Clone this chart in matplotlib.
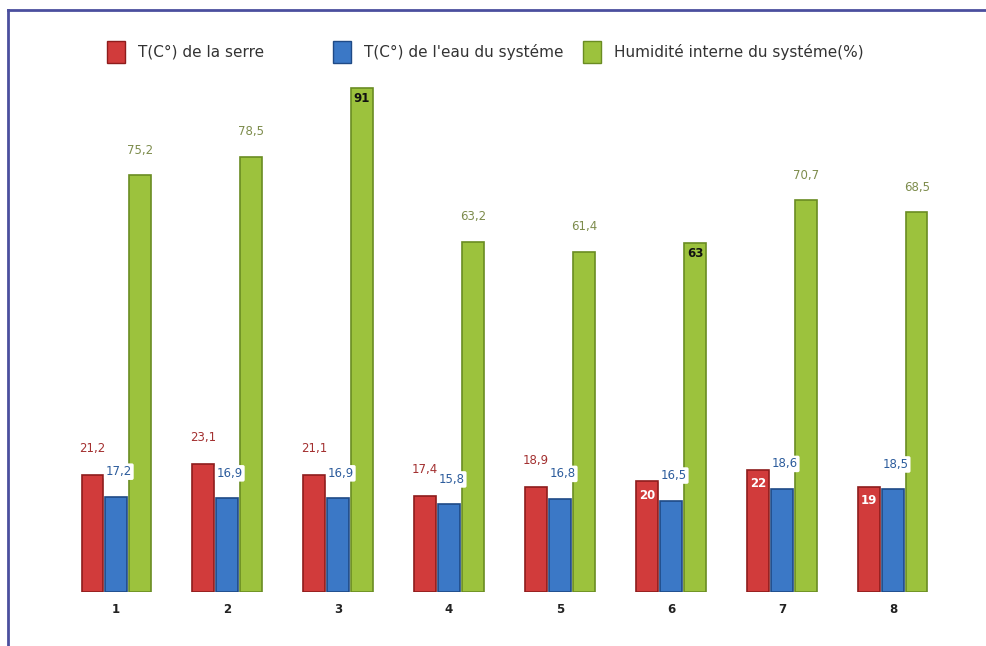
import matplotlib as mpl

mpl.use('Agg')

from matplotlib import pyplot as plt
from matplotlib.patches import Rectangle
from matplotlib.lines import Line2D

days = [1, 2, 3, 4, 5, 6, 7, 8]
day_labels = ['1', '2', '3', '4', '5', '6', '7', '8']
temp_serre = [21.2, 23.1, 21.1, 17.4, 18.9, 20, 22, 19]
temp_eau = [17.2, 16.9, 16.9, 15.8, 16.8, 16.5, 18.6, 18.5]
humidite = [75.2, 78.5, 91, 63.2, 61.4, 63, 70.7, 68.5]
series_names = ['T(C°) de la serre', "T(C°) de l'eau du systéme",
                'Humidité interne du systéme(%)']

# labels drawn inside the top of the bar instead of above it
serre_inside = [6, 7, 8]
humid_inside = [3, 6]


def fmt(v):
    if float(v).is_integer():
        return str(int(v))
    return ('%.1f' % v).replace('.', ',')


red, red_edge = '#d13b3b', '#8e1c1c'
blue, blue_edge = '#3b78c6', '#1f4a86'
green, green_edge = '#9cc23d', '#6a8c22'

W, H = 987, 646
fig = plt.figure(figsize=(W / 100, H / 100), dpi=100)
fig.patch.set_facecolor('white')
ax = fig.add_axes([30 / W, 54 / H, 945 / W, 562 / H])

width = 0.19
off = 0.216
xr = [d - off for d in days]
xg = [d + off for d in days]

ax.bar(xr, temp_serre, width, color=red, edgecolor=red_edge, linewidth=1.2)
ax.bar(days, temp_eau, width, color=blue, edgecolor=blue_edge, linewidth=1.2)
ax.bar(xg, humidite, width, color=green, edgecolor=green_edge, linewidth=1.2)

ax.set_xlim(0.225, 8.739)
ax.set_ylim(0, 101.4)
for s in ax.spines.values():
    s.set_visible(False)
ax.set_yticks([])
ax.set_xticks(days)
ax.set_xticklabels(day_labels, fontsize=8.5, color='#222222', fontweight='bold')
ax.tick_params(axis='x', length=0, pad=8)

for d, x, v in zip(days, xr, temp_serre):
    if d in serre_inside:
        ax.annotate(fmt(v), (x, v), xytext=(0, -10), textcoords='offset points',
                    ha='center', va='center', fontsize=8.5, color='white',
                    fontweight='bold')
    else:
        ax.annotate(fmt(v), (x, v), xytext=(0, 19), textcoords='offset points',
                    ha='center', va='center', fontsize=8.5, color='#a33030')

for x, v in zip(days, temp_eau):
    ax.annotate(fmt(v), (x, v), xytext=(2, 18), textcoords='offset points',
                ha='center', va='center', fontsize=8.5, color='#2c5c9c',
                bbox=dict(boxstyle='round,pad=0.15', fc='white', ec='none'))

for d, x, v in zip(days, xg, humidite):
    if d in humid_inside:
        ax.annotate(fmt(v), (x, v), xytext=(0, -8), textcoords='offset points',
                    ha='center', va='center', fontsize=8.5, color='#111111',
                    fontweight='bold')
    else:
        ax.annotate(fmt(v), (x, v), xytext=(0, 18), textcoords='offset points',
                    ha='center', va='center', fontsize=8.5, color='#7d8c4c')

# legend row across the top
key_x = [107, 333, 583]
colors = [(red, red_edge), (blue, blue_edge), (green, green_edge)]
for kx, (fc, ec), name in zip(key_x, colors, series_names):
    fig.add_artist(Rectangle((kx / W, 1 - 63 / H), 18 / W, 22 / H,
                             transform=fig.transFigure, facecolor=fc,
                             edgecolor=ec, linewidth=1))
    fig.text((kx + 31) / W, 1 - 52 / H, name, fontsize=11, color='#333333',
             ha='left', va='center')

# outer frame, top and left edges
fig.add_artist(Line2D([8 / W, 1], [1 - 10 / H, 1 - 10 / H],
                      transform=fig.transFigure, color='#4b4f9e', lw=2))
fig.add_artist(Line2D([8 / W, 8 / W], [0, 1 - 10 / H],
                      transform=fig.transFigure, color='#4b4f9e', lw=2))

plt.savefig('out.png', dpi=100)
plt.close()
